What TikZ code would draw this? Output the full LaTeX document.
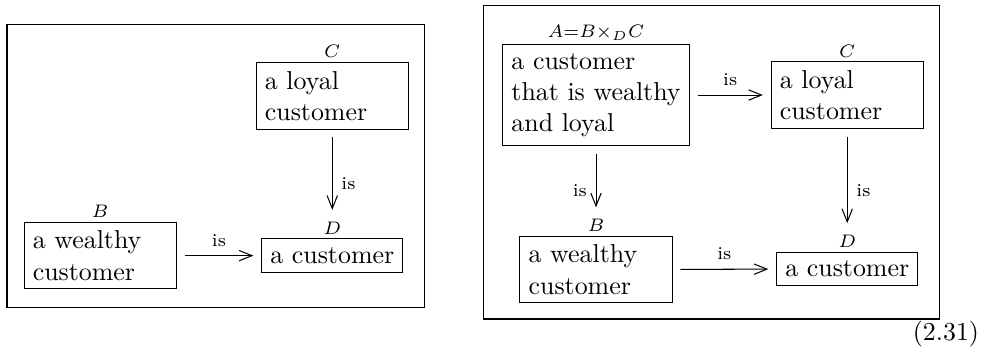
\documentclass[tikz,border=0pt]{standalone}
\usetikzlibrary{shapes, positioning, arrows.meta, calc}

\begin{document}
\begin{tikzpicture}[>={Straight Barb[length=5pt, width=4pt]}, obj/.style={draw, align=left}, objw/.style={obj, text width=1.83cm}, lab/.style={font=\scriptsize}, isarrow/.style={->, shorten <=3pt, shorten >=3pt}, isdown/.style={->, shorten <=3pt, shorten >=11pt}, label distance=-2pt]
\useasboundingbox (0, 0) rectangle (13.37, -4.80);
% left diagram
\node[draw, minimum width=5.67cm, minimum height=3.84cm] (F1) at (2.93, -2.25) {};
\node[objw, label={[lab]above:$C$}] (C1) at (4.51, -1.30) {a loyal\\customer};
\node[objw, label={[lab]above:$B$}] (B1) at (1.36, -3.47) {a wealthy\\customer};
\node[obj, label={[lab]above:$D$}] (D1) at (4.51, -3.47) {a customer};
\draw[isdown] (C1) -- node[lab, right] {is} (D1);
\draw[isarrow] (B1) -- node[lab, above] {is} (D1);
% right diagram
\node[draw, minimum width=6.19cm, minimum height=4.26cm] (F2) at (9.66, -2.20) {};
\node[obj, label={[lab]above:$A{=}B{\times_D}C$}] (A2) at (8.09, -1.29) {a customer\\that is wealthy\\and loyal};
\node[objw, label={[lab]above:$C$}] (C2) at (11.50, -1.29) {a loyal\\customer};
\node[objw, label={[lab]above:$B$}] (B2) at (8.09, -3.66) {a wealthy\\customer};
\node[obj, label={[lab]above:$D$}] (D2) at (11.50, -3.65) {a customer};
\draw[isarrow] (A2) -- node[lab, above] {is} (C2);
\draw[isdown] (A2) -- node[lab, left] {is} (B2);
\draw[isdown] (C2) -- node[lab, right] {is} (D2);
\draw[isarrow] (B2) -- node[lab, above] {is} (D2);
\node (eqno) at (12.84, -4.53) {(2.31)};
\end{tikzpicture}
\end{document}
